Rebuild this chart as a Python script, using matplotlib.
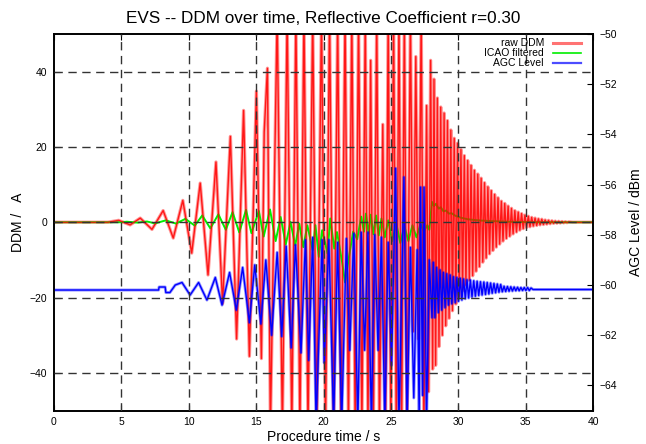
import matplotlib
matplotlib.use("Agg")
import matplotlib.pyplot as plt
from matplotlib.lines import Line2D
from matplotlib.transforms import blended_transform_factory

plt.rcParams["font.family"] = ["Liberation Sans", "DejaVu Sans"]

ddm_time = [0, 4.0, 4.8, 5.65, 6.4, 7.27, 8.1, 8.85, 9.56, 10.22, 10.85, 11.43, 12.02, 12.51,
            13.09, 13.55, 14.07, 14.5, 15.02, 15.39, 15.6, 15.84, 16.06,
            16.56, 16.95, 17.3, 17.65, 17.95, 18.25, 18.55, 18.85, 19.2, 19.5, 19.85, 20.15,
            20.45, 20.75, 21.05, 21.3, 21.6, 21.85, 22.1, 22.35, 22.6, 22.85, 23.1, 23.3,
            23.5, 23.7, 23.95, 24.15, 24.4, 24.6, 24.8, 25.0, 25.2, 25.4, 25.6, 25.8, 26.0,
            26.2, 26.45, 26.65, 26.85, 27.05, 27.25, 27.45, 27.65, 27.8, 27.95, 28.1,
            28.2, 28.32, 28.45, 28.57, 28.7, 28.82, 28.95, 29.07, 29.2, 29.32, 29.45, 29.57,
            29.7, 29.82, 29.95, 30.07, 30.2, 30.32, 30.45, 30.57, 30.7, 30.82, 30.95, 31.07,
            31.2, 31.32, 31.45, 31.57, 31.7, 31.82, 31.95, 32.07, 32.2, 32.32, 32.45, 32.57,
            32.7, 32.82, 32.95, 33.07, 33.2, 33.32, 33.45, 33.57, 33.7, 33.82, 33.95, 34.07,
            34.2, 34.32, 34.45, 34.57, 34.7, 34.82, 34.95, 35.07, 35.2, 35.32, 35.45, 35.57,
            35.7, 35.82, 35.95, 36.07, 36.2, 36.32, 36.45, 36.57, 36.7, 36.82, 36.95, 37.07,
            37.2, 37.32, 37.45, 37.57, 37.7, 37.82, 37.95, 38.07, 38.2, 38.5, 40.0]
ddm_raw = [0, 0, 0.5, -0.7, 1.1, -1.9, 3.1, -4.2, 5.8, -8.2, 10.4, -14.0, 16.0, -21.6,
           22.8, -31.0, 29.7, -35.6, 34.8, -36.2, 24.0, 40.9, -55,
           55, -55, 55, -55, 55, -55, 55, -55, 55, -55, 55, -55,
           55, -55, 55, -55, 55, -55, 55, -55, 55, -55, 55, -55,
           43, -55, 55, -55, 26, -55, 55, -55, 55, -55, 55, -55, 55,
           -55, 55, -29, 44, -31, 55, -55, 31, -45, 43, -39,
           38, -38, 33, -33, 30.6, -30, 29, -27.5, 27, -25.5, 24.5, -23.5,
           22.3, -21.7, 21.0, -19.8, 19.3, -18.2, 17.7, -16.7, 16.4, -15.4, 15.1, -14.2,
           13.8, -13.0, 12.8, -11.8, 11.7, -10.6, 10.5, -9.5, 9.4, -8.4, 8.4, -7.5,
           7.4, -6.6, 6.5, -5.8, 5.6, -5.0, 5.0, -4.3, 4.3, -3.7, 3.7, -3.1,
           3.1, -2.6, 2.7, -2.1, 2.3, -1.7, 1.9, -1.4, 1.6, -1.2, 1.3, -1.0,
           1.1, -0.85, 0.9, -0.7, 0.8, -0.6, 0.6, -0.5, 0.5, -0.4, 0.4, -0.3,
           0.3, -0.25, 0.25, -0.2, 0.2, -0.15, 0.15, -0.1, 0.1, 0, 0]

# ICAO filtered DDM (s, uA)
icao_time = [0, 5.0, 5.4, 6.2, 6.9, 7.5, 8.3, 9.05, 9.75, 10.45, 11.0, 11.6, 12.2, 12.75,
             13.25, 13.75, 14.25, 14.65, 15.2, 15.56, 16.03, 16.45, 16.82, 17.2, 17.55,
             17.9, 18.2, 18.5, 18.8, 19.2, 19.4, 19.65, 19.9, 20.3, 20.5, 20.8, 21.0, 21.4,
             21.6, 21.9, 22.2, 22.5, 22.8, 23.0, 23.15, 23.35, 23.5, 23.7, 23.9, 24.1, 24.3,
             24.55, 24.8, 25.1, 25.4, 25.7, 26.0, 26.3, 26.6, 26.9, 27.2, 27.45, 27.7, 27.85,
             28.05, 28.2, 28.35, 28.55, 28.7, 28.9, 29.1, 29.3, 29.5, 29.8, 30.2, 30.7, 31.2,
             31.7, 32.5, 33.5, 35.0, 36.0, 40.0]
icao_ddm = [0, 0, 0.15, -0.1, 0.2, -0.3, 0.5, -0.35, 0.9, -0.9, 1.8, -1.6, 2.1, -2.0,
            2.7, -2.7, 3.3, -2.9, 3.0, -3.8, 3.4, -5.0, 1.4, -5.9, 0.1,
            -6.2, -0.35, -6.6, -0.8, -7.4, -0.8, -9.2, -2.1, -8.3, 1.0, -7.0, -2.6, -11.0,
            -16.0, -9.0, -2.5, -4.5, 1.5, -2.5, 2.3, -3.0, 2.0, -3.2, 1.8, -3.5, 1.0,
            -4.0, 0.5, -5.0, -0.3, -5.5, -1.0, -5.0, -0.8, -4.0, -0.5, -2.5, -0.8, -2.0,
            5.4, 4.3, 4.9, 3.6, 4.0, 2.9, 3.1, 2.3, 2.4, 1.7, 1.2, 0.8, 0.6,
            0.45, 0.3, 0.15, 0.05, 0, 0]

# AGC level (s, dBm), right axis; -65.5 means clipped at the bottom
agc_time = [0, 7.76, 7.8, 8.25, 8.3, 8.6, 9.0, 9.5, 10.1, 10.73, 11.35, 11.97, 12.47, 13.03,
            13.53, 14.0, 14.5, 14.9, 15.35, 15.72, 16.15, 16.56, 16.9, 17.23, 17.6, 17.92,
            18.33, 18.66, 18.9, 19.2, 19.45, 19.9, 20.05, 20.4, 20.75, 21.05, 21.35, 21.7,
            21.95, 22.25, 22.55, 22.8, 23.05, 23.3, 23.55, 23.8, 24.05, 24.3, 24.55, 24.8,
            25.05, 25.35, 25.6, 25.97, 26.2, 26.45, 26.7, 26.95, 27.1, 27.2, 27.35, 27.46,
            27.65, 27.85, 28.05,
            28.15, 28.27, 28.4, 28.52, 28.65, 28.77, 28.9, 29.02, 29.15, 29.27, 29.4, 29.52,
            29.65, 29.77, 29.9, 30.02, 30.15, 30.27, 30.4, 30.52, 30.65, 30.77, 30.9, 31.02,
            31.15, 31.27, 31.4, 31.52, 31.65, 31.77, 31.9, 32.02, 32.15, 32.27, 32.4, 32.52,
            32.65, 32.77, 32.9, 33.02, 33.15, 33.27, 33.4, 33.52, 33.65, 33.77, 33.9, 34.02,
            34.15, 34.27, 34.4, 34.52, 34.65, 34.77, 34.9, 35.02, 35.15, 35.27, 35.4, 35.55,
            40.0]
agc_level = [-60.2, -60.2, -60.08, -60.08, -60.3, -60.3, -60.0, -59.9, -60.4, -59.9, -60.6,
             -59.7, -60.8, -59.5, -61.0, -59.3, -61.5, -59.2, -61.55, -59.0, -62.0, -58.7,
             -62.05, -58.45, -62.5, -58.4, -62.7, -58.2, -63.0, -58.1, -65.5, -58.2, -63.1,
             -58.2, -65.5, -58.3, -65.5, -58.15, -62.6, -57.95, -65.5, -57.9, -62.6, -57.9,
             -65.5, -58.0, -62.6, -58.1, -65.5, -58.3, -63.2, -55.35, -65.5, -55.7, -65.5,
             -58.5, -64.5, -58.6, -65.5, -56.1, -64.4, -56.1, -65.5, -59.0, -61.3,
             -59.1, -61.3, -59.3, -61.1, -59.4, -61.0, -59.5, -60.9, -59.55, -60.8, -59.6,
             -60.75, -59.67, -60.7, -59.7, -60.65, -59.73, -60.6, -59.76, -60.55, -59.79,
             -60.52, -59.8, -60.48, -59.83, -60.45, -59.85, -60.42, -59.87, -60.4, -59.88,
             -60.38, -59.9, -60.36, -59.92, -60.33, -59.94, -60.31, -59.96, -60.29, -59.98,
             -60.27, -60.05, -60.26, -60.06, -60.25, -60.07, -60.24, -60.08, -60.23, -60.09,
             -60.23, -60.1, -60.22, -60.1, -60.22, -60.1, -60.22, -60.12, -60.18, -60.18]

x_ticks = [0, 5, 10, 15, 20, 25, 30, 35, 40]
ddm_ticks = [-40, -20, 0, 20, 40]
agc_ticks = [-64, -62, -60, -58, -56, -54, -52, -50]
labels = ["raw DDM", "ICAO filtered", "AGC Level"]

fig = plt.figure(figsize=(6.46, 4.44), dpi=100)
ax = fig.add_axes([54 / 646, 1 - 410.5 / 444, 539 / 646, 376.5 / 444])
ax2 = ax.twinx()

# raw DDM: translucent wide stroke plus a thin core, like the gnuplot output
ax.plot(ddm_time, ddm_raw, color="#ff0000", lw=2.4, alpha=0.4)
ax.plot(icao_time, icao_ddm, color="#00ee00", lw=1.4)
ax.plot(ddm_time, ddm_raw, color="#ff0000", lw=1.0, alpha=0.85)

ax2.plot(agc_time, agc_level, color="#0000ff", lw=2.2, alpha=0.4)
ax2.plot(agc_time, agc_level, color="#0000ff", lw=1.0)

ax.set_xlim(0, 40)
ax.set_ylim(-50, 50)
ax2.set_ylim(-65, -50)
ax.set_xticks(x_ticks)
ax.set_yticks(ddm_ticks)
ax2.set_yticks(agc_ticks)

# dashed grid drawn in front of the data
grid_kw = dict(color="#333333", lw=1.0, dashes=(6, 4), zorder=5)
for xv in x_ticks[1:-1]:
    ax2.axvline(xv, **grid_kw)
ytr = blended_transform_factory(ax2.transAxes, ax.transData)
for yv in ddm_ticks:
    ax2.add_artist(Line2D([0, 1], [yv, yv], transform=ytr, **grid_kw))

for a in (ax, ax2):
    for s in a.spines.values():
        s.set_linewidth(1.2)
ax.tick_params(direction="in", length=4, labelsize=7.5, top=True, right=False, pad=5)
ax2.tick_params(direction="in", length=4, labelsize=7.5, pad=5)

ax.set_title("EVS -- DDM over time, Reflective Coefficient r=0.30", fontsize=12.3, pad=8)
ax.set_xlabel("Procedure time / s", fontsize=10, labelpad=2)
ax.set_ylabel("DDM /   A", fontsize=10, labelpad=3)
ax2.set_ylabel("AGC Level / dBm", fontsize=10, labelpad=8)

# key in the top right corner: labels right-aligned, sample line to their right
key_styles = [dict(color="#ff0000", lw=2.2, alpha=0.55),
              dict(color="#00ee00", lw=1.2),
              dict(color="#0000ff", lw=1.6, alpha=0.7)]
for i, (lab, st) in enumerate(zip(labels, key_styles)):
    yk = 0.976 - i * 0.0265
    ax2.text(0.909, yk, lab, transform=ax2.transAxes, ha="right", va="center",
             fontsize=7.5, zorder=10)
    ax2.add_artist(Line2D([0.926, 0.978], [yk, yk], transform=ax2.transAxes, zorder=10, **st))

fig.savefig("out.png", dpi=100)
